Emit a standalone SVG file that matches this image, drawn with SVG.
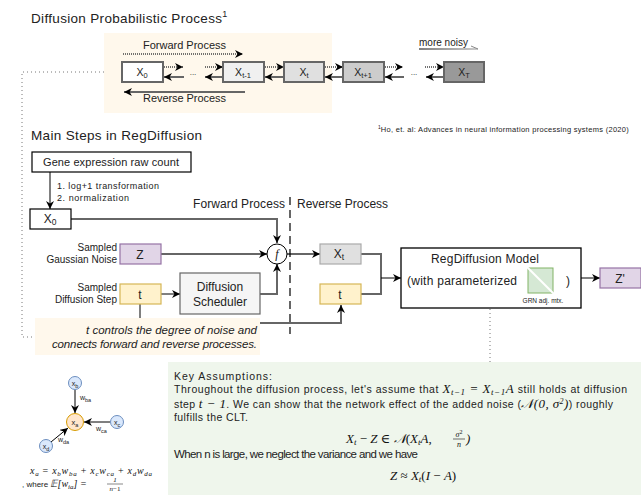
<svg xmlns="http://www.w3.org/2000/svg" width="641" height="498" viewBox="0 0 641 498">
<defs>
<style>
.t{font-family:"Liberation Sans",Arial,sans-serif;fill:#222}
.m{font-family:"Liberation Serif","DejaVu Serif",serif;font-style:italic;fill:#111}
.bx{stroke:#666;stroke-width:2}
.ln{fill:none;stroke:#666;stroke-width:2}
.dt{fill:none;stroke:#444;stroke-width:1.5;stroke-dasharray:1 1}
.k{fill:none;stroke:#000;stroke-width:1}
</style>
<marker id="ah" viewBox="0 0 10 10" refX="10" refY="5" markerWidth="8" markerHeight="8" markerUnits="userSpaceOnUse" orient="auto">
<path d="M0,0 L10,5 L0,10 L3,5 z" fill="#000"/>
</marker>
<linearGradient id="gr" gradientUnits="userSpaceOnUse" x1="419" y1="49" x2="478" y2="49">
<stop offset="0" stop-color="#000"/><stop offset="1" stop-color="#999"/>
</linearGradient>
</defs>
<rect width="641" height="498" fill="#fff"/>

<!-- Titles -->
<text class="t" x="31" y="23" font-size="13.5"><tspan textLength="191" lengthAdjust="spacing">Diffusion Probabilistic Process</tspan><tspan font-size="9" dy="-6">1</tspan></text>
<text class="t" x="31" y="140" font-size="13.5" textLength="171" lengthAdjust="spacing">Main Steps in RegDiffusion</text>
<text class="t" x="378" y="132" font-size="7.5"><tspan font-size="5" dy="-3">1</tspan><tspan dy="3" textLength="248" lengthAdjust="spacing">Ho, et. al: Advances in neural information processing systems (2020)</tspan></text>

<!-- Top panel -->
<g id="top-panel">
<rect x="104" y="33" width="228" height="80" fill="#fff8ec"/>
</g>

<g id="connectors">
<!-- top chain -->
<text class="t" x="143" y="49" font-size="11" fill="#333" textLength="83" lengthAdjust="spacing">Forward Process</text>
<line class="dt" x1="123" y1="54" x2="243" y2="54" marker-end="url(#ah)"/>
<text class="t" x="143" y="102" font-size="11" fill="#333" textLength="83" lengthAdjust="spacing">Reverse Process</text>
<line class="ln" x1="245" y1="92" x2="124" y2="92" marker-end="url(#ah)"/>

<line class="dt" x1="164" y1="67" x2="183" y2="67" marker-end="url(#ah)"/>
<line class="ln" x1="184" y1="77" x2="164" y2="77" marker-end="url(#ah)"/>
<line class="dt" x1="205" y1="67" x2="223" y2="67" marker-end="url(#ah)"/>
<line class="ln" x1="223" y1="77" x2="205" y2="77" marker-end="url(#ah)"/>
<line class="dt" x1="265" y1="67" x2="284" y2="67" marker-end="url(#ah)"/>
<line class="ln" x1="284" y1="77" x2="265" y2="77" marker-end="url(#ah)"/>
<line class="dt" x1="325" y1="67" x2="343" y2="67" marker-end="url(#ah)"/>
<line class="ln" x1="343" y1="77" x2="325" y2="77" marker-end="url(#ah)"/>
<line class="dt" x1="385" y1="67" x2="403" y2="67" marker-end="url(#ah)"/>
<line class="ln" x1="404" y1="77" x2="385" y2="77" marker-end="url(#ah)"/>
<line class="dt" x1="425" y1="67" x2="444" y2="67" marker-end="url(#ah)"/>
<line class="ln" x1="444" y1="77" x2="426" y2="77" marker-end="url(#ah)"/>
<text class="t" x="193" y="75" font-size="8" text-anchor="middle" fill="#555">...</text>
<text class="t" x="414" y="75" font-size="8" text-anchor="middle" fill="#555">...</text>

<text class="t" x="419" y="46" font-size="10" fill="#333" textLength="49" lengthAdjust="spacing">more noisy</text>
<line x1="419" y1="49" x2="478" y2="49" stroke="url(#gr)" stroke-width="1"/>
<line x1="471" y1="46" x2="478" y2="49" stroke="#888" stroke-width="1"/>

<!-- dotted loop to left -->
<polyline points="104,72 22,72 22,337 35,337" fill="none" stroke="#777" stroke-width="1" stroke-dasharray="1 3"/>

<!-- main steps -->
<line class="k" x1="50" y1="172" x2="50" y2="209" marker-end="url(#ah)"/>
<polyline class="ln" points="71,219 277,219 277,243" marker-end="url(#ah)"/>
<line class="ln" x1="161" y1="254" x2="267" y2="254" marker-end="url(#ah)"/>
<line class="k" x1="161" y1="294" x2="180" y2="294" stroke-width="1.5" marker-end="url(#ah)"/>
<polyline class="ln" points="260,294 277,294 277,264" marker-end="url(#ah)"/>
<line class="ln" x1="287" y1="254" x2="320" y2="254" marker-end="url(#ah)"/>
<line x1="140" y1="304" x2="140" y2="323" stroke="#000" stroke-width="1"/>
<polyline class="ln" points="140,323 341,323 341,305" marker-end="url(#ah)"/>
<polyline class="ln" points="361,254 381,254 381,294 361,294"/>
<line class="k" x1="381" y1="278" x2="401" y2="278" stroke-width="1.5" marker-end="url(#ah)"/>
<line class="k" x1="581" y1="278" x2="600" y2="278" stroke-width="1.5" marker-end="url(#ah)"/>
<line x1="290" y1="197" x2="290" y2="334" stroke="#000" stroke-width="1.2" stroke-dasharray="8 5"/>
<line x1="490" y1="309" x2="490" y2="362" stroke="#777" stroke-width="1" stroke-dasharray="1 3"/>

<!-- small graph edges -->
<line class="k" x1="75" y1="390" x2="75" y2="413" stroke-width="1.2" marker-end="url(#ah)"/>
<line class="k" x1="110" y1="422" x2="84" y2="422" stroke-width="1.2" marker-end="url(#ah)"/>
<line class="k" x1="51" y1="442" x2="68" y2="428" stroke-width="1.2" marker-end="url(#ah)"/>
</g>

<!-- top chain boxes -->
<g id="x0-top"><rect class="bx" x="122" y="62" width="41" height="20" fill="#fff"/><text class="t" x="142" y="76" font-size="10.5" text-anchor="middle" fill="#333">X<tspan font-size="7.5" dy="2">0</tspan></text></g>
<g id="xt-1-top"><rect class="bx" x="223" y="62" width="41" height="20" fill="#f0f0f0"/><text class="t" x="243" y="76" font-size="10.5" text-anchor="middle" fill="#333">X<tspan font-size="7.5" dy="2">t-1</tspan></text></g>
<g id="xt-top"><rect class="bx" x="284" y="62" width="40" height="20" fill="#e0e0e0"/><text class="t" x="304" y="76" font-size="10.5" text-anchor="middle" fill="#333">X<tspan font-size="7.5" dy="2">t</tspan></text></g>
<g id="xt+1-top"><rect class="bx" x="343" y="62" width="41" height="20" fill="#cccccc"/><text class="t" x="363" y="76" font-size="10.5" text-anchor="middle" fill="#333">X<tspan font-size="7.5" dy="2">t+1</tspan></text></g>
<g id="xT-top"><rect class="bx" x="444" y="62" width="40" height="20" fill="#999999"/><text class="t" x="464" y="76" font-size="10.5" text-anchor="middle" fill="#333">X<tspan font-size="7.5" dy="2">T</tspan></text></g>

<!-- main steps nodes -->
<g id="gene"><rect x="32" y="152" width="159" height="20" fill="#fff" stroke="#000" stroke-width="1.2"/><text class="t" x="111" y="166" font-size="11" text-anchor="middle" textLength="136" lengthAdjust="spacing">Gene expression raw count</text></g>
<text class="t" x="57" y="189" font-size="9" fill="#333" textLength="102" lengthAdjust="spacing">1. log+1 transformation</text>
<text class="t" x="57" y="201" font-size="9" fill="#333" textLength="72" lengthAdjust="spacing">2. normalization</text>
<g id="x0"><rect x="30" y="209" width="41" height="20" fill="#fff" stroke="#000" stroke-width="1.2"/><text class="t" x="50" y="223" font-size="12" text-anchor="middle">X<tspan font-size="8.5" dy="2">0</tspan></text></g>

<g id="z"><rect x="120" y="244" width="41" height="20" fill="#e1d5e7" stroke="#9673a6" stroke-width="1.2"/><text class="t" x="140" y="258.5" font-size="12" text-anchor="middle">Z</text></g>
<text class="t" x="117" y="251" font-size="10" text-anchor="end" fill="#5a2a2a">Sampled</text>
<text class="t" x="117" y="263" font-size="10" text-anchor="end" fill="#5a2a2a">Gaussian Noise</text>

<g id="t-in"><rect x="120" y="284" width="41" height="20" fill="#fff2cc" stroke="#d6b656" stroke-width="1.2"/><text class="t" x="140" y="298.5" font-size="12" text-anchor="middle">t</text></g>
<text class="t" x="117" y="291" font-size="10" text-anchor="end" fill="#5a2a2a">Sampled</text>
<text class="t" x="117" y="303" font-size="10" text-anchor="end" fill="#5a2a2a">Diffusion Step</text>

<g id="scheduler"><rect x="180" y="273" width="80" height="41" fill="#f5f5f5" stroke="#666" stroke-width="1.2"/><text class="t" x="220" y="291" font-size="12" text-anchor="middle" fill="#333">Diffusion</text><text class="t" x="220" y="306" font-size="12" text-anchor="middle" fill="#333">Scheduler</text></g>

<g id="f"><circle cx="277" cy="254" r="10" fill="#fff" stroke="#000" stroke-width="1"/><text class="m" x="277" y="258" font-size="12" text-anchor="middle">f</text></g>

<text class="t" x="285" y="208" font-size="12" text-anchor="end" fill="#333" textLength="92" lengthAdjust="spacing">Forward Process</text>
<text class="t" x="297" y="208" font-size="12" fill="#333" textLength="91" lengthAdjust="spacing">Reverse Process</text>

<g id="xt"><rect x="320" y="244" width="41" height="20" fill="#e0e0e0" stroke="#aaa" stroke-width="1.2"/><text class="t" x="339" y="258" font-size="12" text-anchor="middle" fill="#555">X<tspan font-size="8.5" dy="2">t</tspan></text></g>
<g id="t-rev"><rect x="320" y="284" width="41" height="20" fill="#fff2cc" stroke="#d6b656" stroke-width="1.2"/><text class="t" x="340" y="298.5" font-size="12" text-anchor="middle">t</text></g>

<g id="model"><rect x="401" y="248" width="180" height="60" fill="#fff" stroke="#000" stroke-width="1.3"/>
<text class="t" x="485" y="263" font-size="12" text-anchor="middle" textLength="108" lengthAdjust="spacing">RegDiffusion Model</text>
<text class="t" x="407" y="285" font-size="12" textLength="110" lengthAdjust="spacing">(with parameterized</text>
<text class="t" x="566" y="285" font-size="12">)</text>
<rect x="528" y="268" width="25" height="25" fill="#d5e8d4" stroke="#82b366" stroke-width="1"/>
<line x1="526" y1="266" x2="555" y2="295" stroke="#fff" stroke-width="2"/>
<text class="t" x="543" y="303" font-size="6.5" text-anchor="middle" fill="#333">GRN adj. mtx.</text>
</g>

<g id="zprime"><rect x="600" y="268" width="41" height="20" fill="#e1d5e7" stroke="#9673a6" stroke-width="1.2"/><text class="t" x="620" y="282.5" font-size="12" text-anchor="middle">Z'</text></g>

<g id="note"><rect x="35" y="318" width="225" height="37" fill="#fff8ec"/>
<text class="t" x="257" y="334" font-size="11.5" font-style="italic" text-anchor="end" textLength="171" lengthAdjust="spacing">t controls the degree of noise and</text>
<text class="t" x="257" y="348" font-size="11.5" font-style="italic" text-anchor="end" textLength="205" lengthAdjust="spacing">connects forward and reverse processes.</text>
</g>

<!-- small graph -->
<g id="xb"><circle cx="75" cy="383" r="6.5" fill="#dae8fc" stroke="#6c8ebf"/><text class="t" x="75" y="386" font-size="7" text-anchor="middle">x<tspan font-size="5.5" dy="1.5">b</tspan></text></g>
<g id="xa"><circle cx="75" cy="422" r="8.5" fill="#ffe6cc" stroke="#d79b00"/><text class="t" x="75" y="425" font-size="7.5" text-anchor="middle">x<tspan font-size="5.5" dy="1.5">a</tspan></text></g>
<g id="xc"><circle cx="117" cy="422" r="6.5" fill="#dae8fc" stroke="#6c8ebf"/><text class="t" x="117" y="425" font-size="7" text-anchor="middle">x<tspan font-size="5.5" dy="1.5">c</tspan></text></g>
<g id="xd"><circle cx="46" cy="446" r="6.5" fill="#dae8fc" stroke="#6c8ebf"/><text class="t" x="46" y="449" font-size="7" text-anchor="middle">x<tspan font-size="5.5" dy="1.5">d</tspan></text></g>
<text class="t" x="80" y="400" font-size="7">w<tspan font-size="5.5" dy="2">ba</tspan></text>
<text class="t" x="96" y="431" font-size="7">w<tspan font-size="5.5" dy="2">ca</tspan></text>
<text class="t" x="58" y="442" font-size="7">w<tspan font-size="5.5" dy="2">da</tspan></text>

<text class="m" x="30" y="474" font-size="10" textLength="122" lengthAdjust="spacing">x<tspan font-size="7" dy="1.5">a</tspan><tspan dy="-1.5" font-style="normal"> = </tspan>x<tspan font-size="7" dy="1.5">b</tspan><tspan dy="-1.5">w</tspan><tspan font-size="7" dy="1.5">ba</tspan><tspan dy="-1.5" font-style="normal"> + </tspan>x<tspan font-size="7" dy="1.5">c</tspan><tspan dy="-1.5">w</tspan><tspan font-size="7" dy="1.5">ca</tspan><tspan dy="-1.5" font-style="normal"> + </tspan>x<tspan font-size="7" dy="1.5">d</tspan><tspan dy="-1.5">w</tspan><tspan font-size="7" dy="1.5">da</tspan></text>
<text class="t" x="22" y="487" font-size="8">, where <tspan class="m" font-style="normal" font-size="10">𝔼[</tspan><tspan class="m" font-size="10">w</tspan><tspan class="m" font-size="7" dy="1.5">ia</tspan><tspan class="m" font-style="normal" font-size="10" dy="-1.5">] = </tspan></text>
<text class="m" x="115" y="482" font-size="7" font-style="normal" text-anchor="middle">1</text>
<line x1="107" y1="484" x2="123" y2="484" stroke="#111" stroke-width="0.5"/>
<text class="m" x="115" y="491" font-size="7" text-anchor="middle">n<tspan font-style="normal">−1</tspan></text>

<!-- Key assumptions -->
<g id="assumptions"><rect x="168" y="362" width="473" height="133" fill="#eff6ec"/>
<text class="t" x="174" y="380" font-size="10.5" textLength="98" lengthAdjust="spacing">Key Assumptions:</text>
<text class="t" x="174" y="393" font-size="10.5" textLength="453" lengthAdjust="spacing">Throughout the diffusion process, let's assume that <tspan class="m" font-size="13">X</tspan><tspan class="m" font-size="9" dy="2">t−1</tspan><tspan class="m" font-size="13" font-style="normal" dy="-2"> = </tspan><tspan class="m" font-size="13">X</tspan><tspan class="m" font-size="9" dy="2">t−1</tspan><tspan class="m" font-size="13" dy="-2">A</tspan> still holds at diffusion</text>
<text class="t" x="174" y="408" font-size="10.5" textLength="439" lengthAdjust="spacing">step <tspan class="m" font-size="13">t</tspan><tspan class="m" font-size="13" font-style="normal"> − 1</tspan>. We can show that the network effect of the added noise (<tspan class="m" font-size="13">𝒩</tspan><tspan class="m" font-size="13" font-style="normal">(0, </tspan><tspan class="m" font-size="13">σ</tspan><tspan class="m" font-size="8" font-style="normal" dy="-4">2</tspan><tspan class="m" font-size="13" font-style="normal" dy="4">)</tspan>) roughly</text>
<text class="t" x="174" y="421" font-size="10.5" textLength="74" lengthAdjust="spacing">fulfills the CLT.</text>
<text class="m" x="346" y="443" font-size="13">X<tspan font-size="9" dy="2">t</tspan><tspan font-style="normal" dy="-2"> − </tspan>Z<tspan font-style="normal"> ∈ </tspan>𝒩<tspan font-style="normal">(</tspan>X<tspan font-size="9" dy="2">t</tspan><tspan dy="-2">A</tspan><tspan font-style="normal">, </tspan></text>
<text class="m" x="459" y="437" font-size="8" text-anchor="middle">σ<tspan font-style="normal" font-size="6" dy="-3">2</tspan></text>
<line x1="453" y1="439" x2="465" y2="439" stroke="#111" stroke-width="0.6"/>
<text class="m" x="459" y="447" font-size="8" text-anchor="middle">n</text>
<text class="m" x="466" y="443" font-size="13" font-style="normal">)</text>
<text class="t" x="174" y="458" font-size="11.5" textLength="244" lengthAdjust="spacing">When n is large, we neglect the variance and we have</text>
<text class="m" x="390" y="480" font-size="13">Z<tspan font-style="normal"> ≈ </tspan>X<tspan font-size="9" dy="2">t</tspan><tspan font-style="normal" dy="-2">(</tspan>I<tspan font-style="normal"> − </tspan>A<tspan font-style="normal">)</tspan></text>
</g>
</svg>
